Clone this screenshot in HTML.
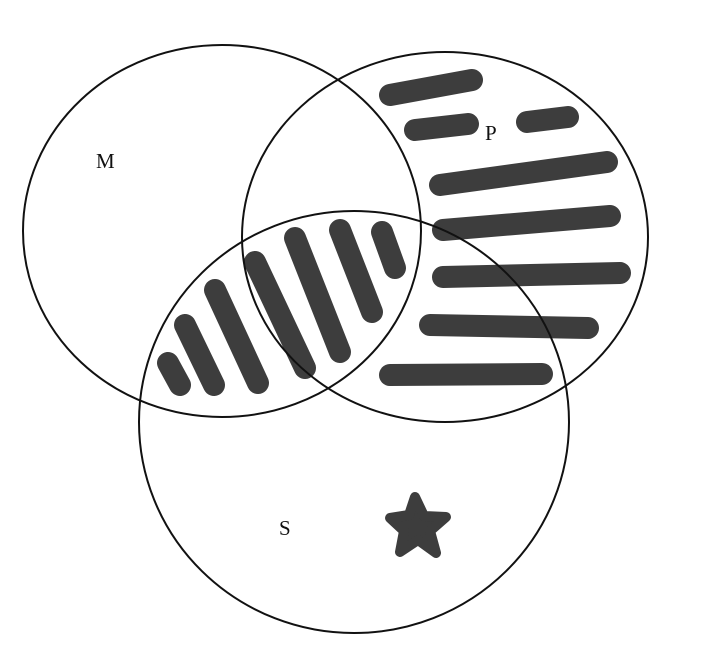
<!DOCTYPE html>
<html>
<head>
<meta charset="utf-8">
<style>
  html, body { margin: 0; padding: 0; background: #fff; }
  svg { display: block; }
  text { font-family: "Liberation Serif", "DejaVu Serif", serif; font-size: 21px; fill: #111; }
</style>
</head>
<body>
<svg id="venn" width="726" height="652" viewBox="0 0 726 652" xmlns="http://www.w3.org/2000/svg">
  <g id="shading"></g>
  <g id="circles"></g>
  <path fill="#3d3d3d" stroke="#3d3d3d" stroke-width="10" stroke-linejoin="round"
    d="M415,497 L424,516 L446,517 L430,531 L436,553 L418,540 L400,552 L404,531 L390,518 L409,515 Z"/>
  <text x="96" y="168">M</text>
  <text x="485" y="140">P</text>
  <text x="279" y="535">S</text>
</svg>
<script>
const setNames = ["M", "P", "S"];
const setCx = [222, 445, 354];
const setCy = [231, 237, 422];
const setRx = [199, 203, 215];
const setRy = [186, 185, 211];
const hStrokeStart = [[390,95],[415,130],[527,122],[440,185],[443,230],[443,277],[430,325],[390,375]];
const hStrokeEnd = [[472,80],[468,124],[568,117],[607,162],[610,216],[620,273],[588,328],[542,374]];
const dStrokeStart = [[168,363],[185,325],[215,290],[255,262],[295,238],[340,230],[382,232]];
const dStrokeEnd = [[180,385],[214,385],[258,383],[305,368],[340,352],[372,312],[395,268]];

const NS = "http://www.w3.org/2000/svg";
const circ = document.getElementById("circles");
for (let i = 0; i < setNames.length; i++) {
  const e = document.createElementNS(NS, "ellipse");
  e.setAttribute("cx", setCx[i]); e.setAttribute("cy", setCy[i]);
  e.setAttribute("rx", setRx[i]); e.setAttribute("ry", setRy[i]);
  e.setAttribute("fill", "none"); e.setAttribute("stroke", "#111"); e.setAttribute("stroke-width", "2");
  
  
  circ.appendChild(e);
}
const sh = document.getElementById("shading");
function stroke(a, b, name) {
  const l = document.createElementNS(NS, "line");
  l.setAttribute("x1", a[0]); l.setAttribute("y1", a[1]);
  l.setAttribute("x2", b[0]); l.setAttribute("y2", b[1]);
  l.setAttribute("stroke", "#3d3d3d"); l.setAttribute("stroke-width", "22");
  l.setAttribute("stroke-linecap", "round");
  
  
  sh.appendChild(l);
}
hStrokeStart.forEach((p, i) => stroke(p, hStrokeEnd[i], 'p-shading-stroke'));
dStrokeStart.forEach((p, i) => stroke(p, dStrokeEnd[i], 'ms-shading-stroke'));
</script>
</body>
</html>
